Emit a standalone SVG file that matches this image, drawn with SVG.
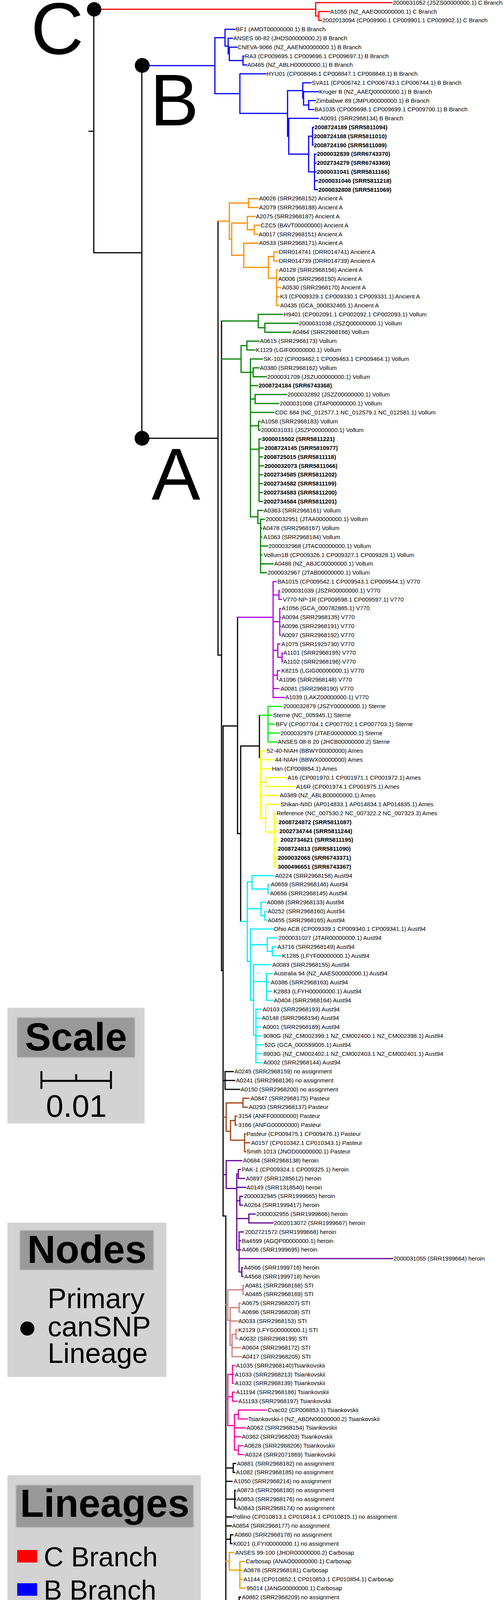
<svg xmlns="http://www.w3.org/2000/svg" width="1290" height="5964" viewBox="0 0 1290 5964">
<style>
.t{font-family:"Liberation Sans",Arial,Helvetica,sans-serif;font-size:15px;fill:#000}
.b{font-weight:bold}
.L{font-family:"Liberation Sans",Arial,Helvetica,sans-serif;fill:#000}
.e{fill:none;stroke-width:3;stroke-linecap:square}
.k{stroke:#000}.cC{stroke:#FF0000}.cB{stroke:#0000FF}.cAA{stroke:#FF8C00}.cVo{stroke:#008000}.cV7{stroke:#B400DC}.cSt{stroke:#00EE00}.cAm{stroke:#FFFF00}.cAu{stroke:#00EEFF}.cPa{stroke:#A0410D}.cHe{stroke:#640096}.cSTI{stroke:#CC7A7A}.cTs{stroke:#FF00A0}.cCa{stroke:#E6A000}.cW{stroke:#000080}
.box{fill:#D3D3D3}.tb{fill:#999999}
</style>
<defs><filter id="sh" x="-5%" y="-10%" width="110%" height="120%"><feGaussianBlur stdDeviation="1.8"/></filter></defs>

<g id="legend-scale">
<rect class="box" x="19" y="2580" width="351" height="296"/>
<rect class="tb" x="44" y="2605" width="301" height="102" filter="url(#sh)"/>
<text class="L b" x="194.5" y="2689" font-size="100" text-anchor="middle">Scale</text>
<path d="M106,2742V2788M284,2742V2788M106,2767H284M195,2750V2767" stroke="#000" stroke-width="5" fill="none"/>
<text class="L" x="195.5" y="2859" font-size="80" text-anchor="middle">0.01</text>
</g>
<g id="legend-nodes">
<rect class="box" x="19" y="3130" width="407" height="395"/>
<rect class="tb" x="51" y="3150" width="342" height="101" filter="url(#sh)"/>
<text class="L b" x="222.5" y="3233" font-size="100" text-anchor="middle">Nodes</text>
<circle cx="70" cy="3401" r="18" fill="#000"/>
<text class="L" x="122" y="3349" font-size="72">Primary</text>
<text class="L" x="122" y="3420.5" font-size="72">canSNP</text>
<text class="L" x="122" y="3489" font-size="72">Lineage</text>
</g>
<g id="legend-lineages">
<rect class="box" x="19" y="3776.5" width="495" height="1456"/>
<rect class="tb" x="41" y="3802" width="454" height="108" filter="url(#sh)"/>
<text class="L b" x="268" y="3883" font-size="100" text-anchor="middle">Lineages</text>
<rect x="44" y="3968" width="51" height="32" fill="#FF0000"/><text class="L" x="112" y="4009.6" font-size="70">C Branch</text>
<rect x="44" y="4053.1" width="51" height="32" fill="#0000FF"/><text class="L" x="112" y="4094.7" font-size="70">B Branch</text>
<rect x="44" y="4138.2" width="51" height="32" fill="#FF8C00"/><text class="L" x="112" y="4179.8" font-size="70">Ancient A</text>
<rect x="44" y="4223.3" width="51" height="32" fill="#008000"/><text class="L" x="112" y="4264.9" font-size="70">Vollum</text>
<rect x="44" y="4308.4" width="51" height="32" fill="#B400DC"/><text class="L" x="112" y="4350" font-size="70">V770</text>
<rect x="44" y="4393.5" width="51" height="32" fill="#00EE00"/><text class="L" x="112" y="4435.1" font-size="70">Sterne</text>
<rect x="44" y="4478.6" width="51" height="32" fill="#FFFF00"/><text class="L" x="112" y="4520.2" font-size="70">Ames</text>
<rect x="44" y="4563.7" width="51" height="32" fill="#00EEFF"/><text class="L" x="112" y="4605.3" font-size="70">Aust94</text>
<rect x="44" y="4648.8" width="51" height="32" fill="#000000"/><text class="L" x="112" y="4690.4" font-size="70">unassigned</text>
<rect x="44" y="4733.9" width="51" height="32" fill="#A0410D"/><text class="L" x="112" y="4775.5" font-size="70">Pasteur</text>
<rect x="44" y="4819" width="51" height="32" fill="#640096"/><text class="L" x="112" y="4860.6" font-size="70">heroin</text>
<rect x="44" y="4904.1" width="51" height="32" fill="#CC7A7A"/><text class="L" x="112" y="4945.7" font-size="70">STI</text>
<rect x="44" y="4989.2" width="51" height="32" fill="#FF00A0"/><text class="L" x="112" y="5030.8" font-size="70">Tsiankovskii</text>
<rect x="44" y="5074.3" width="51" height="32" fill="#E6A000"/><text class="L" x="112" y="5115.9" font-size="70">Carbosap</text>
<rect x="44" y="5159.4" width="51" height="32" fill="#000080"/><text class="L" x="112" y="5201" font-size="70">WNA</text>
</g>
<g id="legend-leafnames">
<rect class="box" x="19" y="5484" width="618" height="473"/>
<rect class="tb" x="35" y="5506" width="584" height="92" filter="url(#sh)"/>
<text class="L b" x="327" y="5588.7" font-size="101" text-anchor="middle">Leaf Names</text>
<rect class="tb" x="215" y="5644.5" width="223" height="59" filter="url(#sh)"/>
<text class="L b" x="326.5" y="5695.4" font-size="61" text-anchor="middle">Pattern</text>
<text class="L" x="333" y="5745" font-size="48" text-anchor="middle">strain (accession) lineage</text>
<rect class="tb" x="175" y="5787" width="303" height="67" filter="url(#sh)"/>
<text class="L b" x="325" y="5840" font-size="61" text-anchor="middle">Emphasis</text>
<text class="L" x="68" y="5895.7" font-size="48"><tspan font-weight="bold">bold</tspan>, this study</text>
<text class="L" x="68" y="5939" font-size="48">normal, previous studies</text>
</g>

<g id="connectors">
<path class="e k" d="M228,336H240M240,23.8V647M240,647H363M363,168V1122M363,1122H558M558,566V1677M558,1677H567M567,821.7V2484.5M567,2484.5H571M571,1858.6V3113M571,1858.6H608M608,1580.2V2134M608,2134H616M616,1909.8V2359M616,1909.8H664M664,1831V1939M571,3113H578M578,3113V4348M578,4348H587M587,4264.6V4485.4M571,2766H576M576,2743.2V2788.8M576,2743.2H597M576,2766H601M576,2788.8H614M578,3758H597M597,3746.6V3769.4M597,3746.6H603M597,3769.4H601M578,3792.2H594M578,3837.8H601M601,3815V3860.6M601,3815H603M601,3837.8H603M601,3860.6H605M578,3883.4H594M578,3906.2H592M578,3940.4H590M590,3929V3951.8M590,3929H596M590,3951.8H594M578,4100H612M612,4088.6V4111.4M612,4088.6H616M612,4111.4H614M578,4157H616M616,4134.2V4179.8M616,4134.2H622M616,4157H620M616,4179.8H620M578,4202.6H596M587,4264.6H659M659,4236.8V4305.3M659,4236.8H675M675,4225.4V4248.2M675,4225.4H684M675,4248.2H690M659,4305.3H678M678,4271V4339.5M678,4271H690M678,4293.9H690M678,4316.7H688M678,4339.5H690M587,4377.6H720M720,4362.3V4396.5M720,4362.3H849M720,4396.5H757M757,4385.1V4407.9M757,4385.1H919M757,4407.9H973"/>
<path class="e cC" d="M240,23.8H808M808,6.7V40.9M808,6.7H1003M808,40.9H816M816,29.5V52.3M816,29.5H843M816,52.3H823"/>
<path class="e cB" d="M364,168H550M550,96.5V239.7M550,96.5H576M576,75.1V117.9M576,75.1H602M576,117.9H584M584,97.9V137.8M584,97.9H595M584,137.8H587M587,120.7V154.9M587,120.7H606M587,154.9H622M622,143.5V166.3M622,143.5H625M622,166.3H631M550,239.7H614M614,189.1V290.3M614,189.1H680M614,290.3H736M736,231.9V348.8M736,231.9H775M775,211.9V251.8M775,211.9H796M775,251.8H777M777,234.7V268.9M777,234.7H815M777,268.9H790M790,257.5V280.3M790,257.5H807M790,280.3H803M736,348.8H739M739,303.1V394.4M739,303.1H815M739,394.4H790M790,348.8V440M790,348.8H800M800,326V371.6M800,326H803M800,371.6H801M790,440H805M805,394.4V485.6M805,394.4H809M805,417.2H809M805,440H809M805,462.8H813M805,485.6H813"/>
<path class="e cAA" d="M558,566H587M587,519.8V612.3M587,519.8H636M636,508.4V531.2M636,508.4H661M636,531.2H661M587,612.3H593M593,571.1V653.4M593,571.1H633M633,554V588.2M633,554H653M633,588.2H651M651,576.8V599.6M651,576.8H665M651,599.6H660M593,653.4H624M624,622.4V684.5M624,622.4H661M624,684.5H687M687,656.6V712.3M687,656.6H701M701,645.2V668M701,645.2H712M701,668H712M687,712.3H708M708,690.8V782M708,690.8H711M708,736.4H719M708,759.2H714M708,782H714"/>
<path class="e cVo" d="M567,821.7H661M661,804.8V839M661,804.8H723M661,839H678M678,827.6V850.4M678,827.6H763M678,850.4H744M567,919H617M617,884.7V953.3M617,884.7H632M632,873.3V896.1M632,873.3H663M632,896.1H653M617,953.3H641M641,918.9V1323M641,918.9H672M641,953.1H648M648,941.7V964.5M648,941.7H663M648,964.5H682M641,987.3H660M641,1021.5H653M653,1010.1V1032.9M653,1010.1H734M653,1032.9H713M641,1055.7H701M641,1089.9H662M662,1078.5V1101.3M662,1078.5H666M662,1101.3H666M641,1150H663M663,1124.1V1283.7M663,1124.1H668M663,1146.9H674M663,1169.7H672M663,1192.5H674M663,1215.3H672M663,1238.1H672M663,1260.9H672M663,1283.7H672M641,1323H660M660,1306.5V1340M660,1306.5H673M660,1340H667M667,1329.3V1466.2M667,1329.3H677M667,1352.1H670M667,1374.9H670M667,1397.7H685M667,1420.5H670M667,1443.4H699M667,1466.2H682"/>
<path class="e cV7" d="M608,1580.2H699M699,1489V1785.4M699,1489H707M699,1523.2H714M714,1511.8V1534.6M714,1511.8H716M714,1534.6H720M699,1591.6H716M716,1557.4V1625.8M716,1557.4H718M716,1580.2H718M716,1603H718M716,1625.8H718M699,1665H711M711,1648.6V1682.8M711,1648.6H716M711,1682.8H722M722,1671.4V1694.2M722,1671.4H723M722,1694.2H723M699,1728.4H710M710,1717V1739.8M710,1717H716M710,1739.8H711M699,1762.6H714M699,1785.4H728"/>
<path class="e cSt" d="M664,1831H686M686,1808.2V1899.4M686,1808.2H721M686,1831H696M686,1853.8H703M686,1876.6H715M686,1899.4H709"/>
<path class="e cAm" d="M664,2008H667M667,1922.2V2094.6M667,1922.2H680M667,1945H701M667,1967.8H693M667,2002H680M680,1990.6V2013.5M680,1990.6H734M680,2013.5H754M667,2036.3H713M667,2094.6H680M680,2059.1V2130M680,2059.1H715M680,2130H702M702,2081.9V2218.7M702,2081.9H706M702,2104.7H709M702,2127.5H709M702,2150.3H709M702,2173.1H709M702,2195.9H709M702,2218.7H709"/>
<path class="e cAu" d="M616,2359H633M633,2257.4V2461.5M633,2257.4H645M645,2241.5V2275.7M645,2241.5H700M645,2275.7H686M686,2264.3V2287.1M686,2264.3H690M686,2287.1H688M633,2326.6H668M668,2309.9V2344.1M668,2309.9H680M668,2344.1H678M678,2332.7V2355.5M678,2332.7H682M678,2355.5H682M633,2461.5H641M641,2378.3V2560.5M641,2378.3H699M641,2418.5H684M684,2401.1V2435.3M684,2401.1H709M684,2435.3H697M697,2423.9V2446.7M697,2423.9H707M697,2446.7H718M641,2560.5H649M649,2469.5V2650M649,2469.5H693M649,2512.8H682M682,2492.3V2560.7M682,2492.3H697M682,2515.1H688M682,2537.9H695M682,2560.7H699M649,2650H655M655,2583.6V2720.4M655,2583.6H668M655,2606.4H666M655,2629.2H668M655,2652H668M655,2674.8H674M655,2697.6H670M655,2720.4H670"/>
<path class="e cPa" d="M571,2860H579M579,2823.5V2896M579,2823.5H622M622,2811.6V2834.4M622,2811.6H637M622,2834.4H633M579,2896H590M590,2868.6V2919M590,2868.6H602M602,2857.2V2880M602,2857.2H606M602,2880H606M590,2919H626M626,2902.8V2948.4M626,2902.8H629M626,2925.6H639M626,2948.4H629"/>
<path class="e cHe" d="M571,3007H579M579,2971.2V3042.6M579,2971.2H619M579,3042.6H606M606,3005.4V3200M606,3005.4H610M610,2994V3016.8M610,2994H615M610,3016.8H626M606,3039.6H629M606,3073.8H614M614,3062.4V3085.2M614,3062.4H621M614,3085.2H621M606,3119.4H637M637,3108V3130.8M637,3108H653M637,3130.8H699M606,3200H612M612,3153.7V3256.3M612,3153.7H623M612,3176.5H616M612,3199.3H616M612,3222.1H1005M612,3256.3H619M619,3244.9V3267.7M619,3244.9H621M619,3267.7H622"/>
<path class="e cSTI" d="M578,3341H583M583,3301.9V3380M583,3301.9H622M622,3290.5V3313.3M622,3290.5H624M622,3313.3H624M583,3380H589M589,3347.5V3444M589,3347.5H612M612,3336.1V3358.9M612,3336.1H615M612,3358.9H615M589,3381.7H608M589,3444H594M594,3415.9V3472.9M594,3415.9H604M604,3404.5V3427.3M604,3404.5H607M604,3427.3H609M594,3450.1H616M594,3472.9H618"/>
<path class="e cTs" d="M578,3581H583M583,3518.5V3649.4M583,3518.5H595M595,3495.7V3541.3M595,3495.7H601M595,3518.5H598M595,3541.3H598M583,3575.5H595M595,3564.1V3586.9M595,3564.1H601M595,3586.9H607M583,3649.4H600M600,3621.1V3712.3M600,3621.1H610M610,3609.7V3632.5M610,3609.7H682M610,3632.5H633M600,3655.3H629M600,3678.1H616M600,3712.3H610M610,3700.9V3723.8M610,3700.9H622M610,3723.8H624"/>
<path class="e cCa" d="M578,3997H587M587,3974.6V4019.6M587,3974.6H599M587,4019.6H614M614,3997.4V4065.8M614,3997.4H626M614,4020.2H620M614,4043H620M614,4065.8H628"/>
<path class="e cW" d="M587,4485.4H627M627,4430.7V4540M627,4430.7H629M627,4540H637M637,4453.5V4757M637,4453.5H682M637,4510.5H644M644,4476.3V4544.7M644,4476.3H646M644,4499.1H646M644,4521.9H646M644,4544.7H646M637,4757H641M641,4567.5V4941M641,4567.5H658M641,4607H649M649,4590.3V4624.5M649,4590.3H662M649,4624.5H662M662,4613.1V4635.9M662,4613.1H709M662,4635.9H668M641,4658.7H678M641,4681.5H655M641,4704.3H677M641,4727.1H655M641,4795.5H653M653,4749.9V4841.1M653,4749.9H655M653,4772.7H655M653,4818.3H655M653,4841.1H655M641,4898H659M659,4864V4932.4M659,4864H662M659,4886.8H662M659,4909.6H662M659,4932.4H660M641,4941H651M651,4941V5633M651,4972.8H682M682,4955.2V5023.6M682,4955.2H685M682,4978H686M682,5000.8H685M682,5023.6H686M651,5046.4H659M651,5092H667M667,5069.2V5114.8M667,5069.2H668M667,5114.8H668M651,5137.6H658M651,5182H668M668,5160.4V5206M668,5160.4H693M668,5206H680M680,5183.2V5240M680,5183.2H707M680,5240H685M685,5206V5274.4M685,5206H688M685,5228.8H688M685,5251.6H688M685,5274.4H688M651,5354H660M660,5297.2V5456.9M660,5297.2H663M660,5320H663M660,5342.8H663M660,5365.6H663M660,5388.4H664M660,5411.2H664M660,5434H664M660,5456.9H664M651,5502.5H662M662,5479.7V5525.3M662,5479.7H664M662,5502.5H664M662,5525.3H664M651,5548.1H665M651,5582.3H670M670,5570.9V5593.7M670,5570.9H673M670,5593.7H673M651,5633H662M662,5633V5800M662,5650.7H674M674,5616.5V5684.9M674,5616.5H676M674,5639.3H676M674,5662.1H678M674,5684.9H683M662,5753.3H678M678,5707.7V5798.9M678,5707.7H680M678,5730.5H680M678,5776.1H681M678,5798.9H681M662,5800H670M670,5800V5912.9M670,5833.1H674M674,5821.7V5844.5M674,5821.7H677M674,5844.5H683M670,5912.9H674M674,5867.3V5958.5M674,5867.3H675M674,5890.1H675M674,5935.7H675M674,5958.5H675"/>
</g>

<g id="node-C"><circle cx="241" cy="24" r="18.5" fill="#000"/><text class="L" x="79" y="138" font-size="187">C</text></g>
<g id="node-B"><circle cx="364" cy="167.5" r="19" fill="#000"/><text class="L" x="384" y="321" font-size="187">B</text></g>
<g id="node-A"><circle cx="363.5" cy="1122" r="19" fill="#000"/><text class="L" x="388" y="1279" font-size="187">A</text></g>

<g id="leaves">
<text id="leaf0" class="t" x="1006" y="11.7">2000031052 (JSZS00000000.1) C Branch</text>
<text id="leaf1" class="t" x="845" y="34.5">A1055 (NZ_AAEO00000000.1) C Branch</text>
<text id="leaf2" class="t" x="825" y="57.3">2002013094 (CP009900.1 CP009901.1 CP009902.1) C Branch</text>
<text id="leaf3" class="t" x="604" y="80.1">BF1 (AMDT00000000.1) B Branch</text>
<text id="leaf4" class="t" x="597" y="102.9">ANSES 00-82 (JHDS00000000.2) B Branch</text>
<text id="leaf5" class="t" x="608" y="125.7">CNEVA-9066 (NZ_AAEN00000000.1) B Branch</text>
<text id="leaf6" class="t" x="627" y="148.5">RA3 (CP009695.1 CP009696.1 CP009697.1) B Branch</text>
<text id="leaf7" class="t" x="633" y="171.3">A0465 (NZ_ABLH00000000.1) B Branch</text>
<text id="leaf8" class="t" x="682" y="194.1">HYU01 (CP008846.1 CP008847.1 CP008848.1) B Branch</text>
<text id="leaf9" class="t" x="798" y="216.9">SVA11 (CP006742.1 CP006743.1 CP006744.1) B Branch</text>
<text id="leaf10" class="t" x="817" y="239.7">Kruger B (NZ_AAEQ00000000.1) B Branch</text>
<text id="leaf11" class="t" x="809" y="262.5">Zimbabwe 89 (JMPU00000000.1) B Branch</text>
<text id="leaf12" class="t" x="805" y="285.3">BA1035 (CP009698.1 CP009699.1 CP009700.1) B Branch</text>
<text id="leaf13" class="t" x="819" y="308.1">A0091 (SRR2968134) B Branch</text>
<text id="leaf14" class="t b" x="805" y="331">2008724189 (SRR5811094)</text>
<text id="leaf15" class="t b" x="803" y="353.8">2008724188 (SRR5811010)</text>
<text id="leaf16" class="t b" x="803" y="376.6">2008724190 (SRR5811089)</text>
<text id="leaf17" class="t b" x="811" y="399.4">2000032839 (SRR6743370)</text>
<text id="leaf18" class="t b" x="811" y="422.2">2002734279 (SRR6743369)</text>
<text id="leaf19" class="t b" x="811" y="445">2000031041 (SRR5811166)</text>
<text id="leaf20" class="t b" x="815" y="467.8">2000031046 (SRR5811218)</text>
<text id="leaf21" class="t b" x="815" y="490.6">2000032808 (SRR5811069)</text>
<text id="leaf22" class="t" x="663" y="513.4">A0026 (SRR2968152) Ancient A</text>
<text id="leaf23" class="t" x="663" y="536.2">A2079 (SRR2968188) Ancient A</text>
<text id="leaf24" class="t" x="655" y="559">A2075 (SRR2968187) Ancient A</text>
<text id="leaf25" class="t" x="667" y="581.8">CZC5 (BAVT00000000) Ancient A</text>
<text id="leaf26" class="t" x="662" y="604.6">A0017 (SRR2968151) Ancient A</text>
<text id="leaf27" class="t" x="663" y="627.4">A0533 (SRR2968171) Ancient A</text>
<text id="leaf28" class="t" x="714" y="650.2">DRR014741 (DRR014741) Ancient A</text>
<text id="leaf29" class="t" x="714" y="673">DRR014739 (DRR014739) Ancient A</text>
<text id="leaf30" class="t" x="714" y="695.8">A0128 (SRR2968156) Ancient A</text>
<text id="leaf31" class="t" x="712" y="718.6">A0006 (SRR2968150) Ancient A</text>
<text id="leaf32" class="t" x="722" y="741.4">A0530 (SRR2968170) Ancient A</text>
<text id="leaf33" class="t" x="717" y="764.2">K3 (CP009329.1 CP009330.1 CP009331.1) Ancient A</text>
<text id="leaf34" class="t" x="717" y="787">A0435 (GCA_000832465.1) Ancient A</text>
<text id="leaf35" class="t" x="726" y="809.8">H9401 (CP002091.1 CP002092.1 CP002093.1) Vollum</text>
<text id="leaf36" class="t" x="765" y="832.6">2000031038 (JSZQ00000000.1) Vollum</text>
<text id="leaf37" class="t" x="748" y="855.4">A0464 (SRR2968166) Vollum</text>
<text id="leaf38" class="t" x="665" y="878.3">A0615 (SRR2968173) Vollum</text>
<text id="leaf39" class="t" x="655" y="901.1">K1129 (LGIF00000000.1) Vollum</text>
<text id="leaf40" class="t" x="675" y="923.9">SK-102 (CP009462.1 CP009463.1 CP009464.1) Vollum</text>
<text id="leaf41" class="t" x="665" y="946.7">A0380 (SRR2968162) Vollum</text>
<text id="leaf42" class="t" x="684" y="969.5">2000031709 (JSZU00000000.1) Vollum</text>
<text id="leaf43" class="t b" x="662" y="992.3">2008724184 (SRR6743368)</text>
<text id="leaf44" class="t" x="736" y="1015.1">2000032892 (JSZZ00000000.1) Vollum</text>
<text id="leaf45" class="t" x="716" y="1037.9">2000031008 (JTAP00000000.1) Vollum</text>
<text id="leaf46" class="t" x="704" y="1060.7">CDC 684 (NC_012577.1 NC_012579.1 NC_012581.1) Vollum</text>
<text id="leaf47" class="t" x="668" y="1083.5">A1058 (SRR2968183) Vollum</text>
<text id="leaf48" class="t" x="668" y="1106.3">2000031031 (JSZP00000000.1) Vollum</text>
<text id="leaf49" class="t b" x="670" y="1129.1">3000015502 (SRR5811221)</text>
<text id="leaf50" class="t b" x="677" y="1151.9">2008724145 (SRR5810977)</text>
<text id="leaf51" class="t b" x="675" y="1174.7">2008725015 (SRR5811118)</text>
<text id="leaf52" class="t b" x="677" y="1197.5">2000032073 (SRR5811066)</text>
<text id="leaf53" class="t b" x="675" y="1220.3">2002734585 (SRR5811202)</text>
<text id="leaf54" class="t b" x="675" y="1243.1">2002734582 (SRR5811199)</text>
<text id="leaf55" class="t b" x="675" y="1265.9">2002734583 (SRR5811200)</text>
<text id="leaf56" class="t b" x="675" y="1288.7">2002734584 (SRR5811201)</text>
<text id="leaf57" class="t" x="675" y="1311.5">A0363 (SRR2968161) Vollum</text>
<text id="leaf58" class="t" x="680" y="1334.3">2000032951 (JTAA00000000.1) Vollum</text>
<text id="leaf59" class="t" x="672" y="1357.1">A0478 (SRR2968167) Vollum</text>
<text id="leaf60" class="t" x="674" y="1379.9">A1063 (SRR2968184) Vollum</text>
<text id="leaf61" class="t" x="687" y="1402.7">2000032968 (JTAC00000000.1) Vollum</text>
<text id="leaf62" class="t" x="675" y="1425.5">Vollum1B (CP009326.1 CP009327.1 CP009328.1) Vollum</text>
<text id="leaf63" class="t" x="702" y="1448.4">A0488 (NZ_ABJC00000000.1) Vollum</text>
<text id="leaf64" class="t" x="685" y="1471.2">2000032967 (JTAB00000000.1) Vollum</text>
<text id="leaf65" class="t" x="710" y="1494">BA1015 (CP009542.1 CP009543.1 CP009544.1) V770</text>
<text id="leaf66" class="t" x="720" y="1516.8">2000031039 (JSZR00000000.1) V770</text>
<text id="leaf67" class="t" x="724" y="1539.6">V770-NP-1R (CP009598.1 CP009597.1) V770</text>
<text id="leaf68" class="t" x="721" y="1562.4">A1056 (GCA_000782885.1) V770</text>
<text id="leaf69" class="t" x="721" y="1585.2">A0094 (SRR2968135) V770</text>
<text id="leaf70" class="t" x="720" y="1608">A0096 (SRR2968191) V770</text>
<text id="leaf71" class="t" x="720" y="1630.8">A0097 (SRR2968192) V770</text>
<text id="leaf72" class="t" x="720" y="1653.6">A1075 (SRR1925730) V770</text>
<text id="leaf73" class="t" x="725" y="1676.4">A1101 (SRR2968195) V770</text>
<text id="leaf74" class="t" x="725" y="1699.2">A1102 (SRR2968196) V770</text>
<text id="leaf75" class="t" x="720" y="1722">K8215 (LGIG00000000.1) V770</text>
<text id="leaf76" class="t" x="714" y="1744.8">A1096 (SRR2968148) V770</text>
<text id="leaf77" class="t" x="718" y="1767.6">A0081 (SRR2968190) V770</text>
<text id="leaf78" class="t" x="730" y="1790.4">A1039 (LAKZ00000000.1) V770</text>
<text id="leaf79" class="t" x="725" y="1813.2">2000032879 (JSZY00000000.1) Sterne</text>
<text id="leaf80" class="t" x="699" y="1836">Sterne (NC_005945.1) Sterne</text>
<text id="leaf81" class="t" x="706" y="1858.8">BFV (CP007704.1 CP007702.1 CP007703.1) Sterne</text>
<text id="leaf82" class="t" x="718" y="1881.6">2000032979 (JTAE00000000.1) Sterne</text>
<text id="leaf83" class="t" x="711" y="1904.4">ANSES 08-8 20 (JHCB00000000.2) Sterne</text>
<text id="leaf84" class="t" x="683" y="1927.2">52-40-NIAH (BBWY00000000) Ames</text>
<text id="leaf85" class="t" x="704" y="1950">44-NIAH (BBWX00000000) Ames</text>
<text id="leaf86" class="t" x="696" y="1972.8">Han (CP008854.1) Ames</text>
<text id="leaf87" class="t" x="736" y="1995.6">A16 (CP001970.1 CP001971.1 CP001972.1) Ames</text>
<text id="leaf88" class="t" x="758" y="2018.5">A16R (CP001974.1 CP001975.1) Ames</text>
<text id="leaf89" class="t" x="716" y="2041.3">A0389 (NZ_ABLB00000000.1) Ames</text>
<text id="leaf90" class="t" x="718" y="2064.1">Shikan-NIID (AP014833.1 AP014834.1 AP014835.1) Ames</text>
<text id="leaf91" class="t" x="708" y="2086.9">Reference (NC_007530.2 NC_007322.2 NC_007323.3) Ames</text>
<text id="leaf92" class="t b" x="713" y="2109.7">2008724872 (SRR5811087)</text>
<text id="leaf93" class="t b" x="715" y="2132.5">2002734744 (SRR5811244)</text>
<text id="leaf94" class="t b" x="718" y="2155.3">2002734621 (SRR5811195)</text>
<text id="leaf95" class="t b" x="711" y="2178.1">2008724813 (SRR5811090)</text>
<text id="leaf96" class="t b" x="711" y="2200.9">2000032065 (SRR6743371)</text>
<text id="leaf97" class="t b" x="711" y="2223.7">3000496651 (SRR6743367)</text>
<text id="leaf98" class="t" x="704" y="2246.5">A0224 (SRR2968158) Aust94</text>
<text id="leaf99" class="t" x="693" y="2269.3">A0659 (SRR2968146) Aust94</text>
<text id="leaf100" class="t" x="691" y="2292.1">A0656 (SRR2968145) Aust94</text>
<text id="leaf101" class="t" x="683" y="2314.9">A0088 (SRR2968133) Aust94</text>
<text id="leaf102" class="t" x="685" y="2337.7">A0252 (SRR2968160) Aust94</text>
<text id="leaf103" class="t" x="685" y="2360.5">A0455 (SRR2968165) Aust94</text>
<text id="leaf104" class="t" x="701" y="2383.3">Ohio ACB (CP009339.1 CP009340.1 CP009341.1) Aust94</text>
<text id="leaf105" class="t" x="713" y="2406.1">2000031027 (JTAR00000000.1) Aust94</text>
<text id="leaf106" class="t" x="710" y="2428.9">A3716 (SRR2968149) Aust94</text>
<text id="leaf107" class="t" x="722" y="2451.7">K1285 (LFYF00000000.1) Aust94</text>
<text id="leaf108" class="t" x="697" y="2474.5">A0083 (SRR2968155) Aust94</text>
<text id="leaf109" class="t" x="701" y="2497.3">Australia 94 (NZ_AAES00000000.1) Aust94</text>
<text id="leaf110" class="t" x="693" y="2520.1">A0386 (SRR2968163) Aust94</text>
<text id="leaf111" class="t" x="700" y="2542.9">K2883 (LFYH00000000.1) Aust94</text>
<text id="leaf112" class="t" x="701" y="2565.7">A0404 (SRR2968164) Aust94</text>
<text id="leaf113" class="t" x="672" y="2588.6">A0103 (SRR2968193) Aust94</text>
<text id="leaf114" class="t" x="670" y="2611.4">A0148 (SRR2968194) Aust94</text>
<text id="leaf115" class="t" x="672" y="2634.2">A0001 (SRR2968189) Aust94</text>
<text id="leaf116" class="t" x="674" y="2657">9080G (NZ_CM002399.1 NZ_CM002400.1 NZ_CM002398.1) Aust94</text>
<text id="leaf117" class="t" x="677" y="2679.8">52G (GCA_000559005.1) Aust94</text>
<text id="leaf118" class="t" x="674" y="2702.6">8903G (NZ_CM002402.1 NZ_CM002403.1 NZ_CM002401.1) Aust94</text>
<text id="leaf119" class="t" x="674" y="2725.4">A0002 (SRR2968144) Aust94</text>
<text id="leaf120" class="t" x="600" y="2748.2">A0245 (SRR2968159) no assignment</text>
<text id="leaf121" class="t" x="604" y="2771">A0241 (SRR2968136) no assignment</text>
<text id="leaf122" class="t" x="616" y="2793.8">A0150 (SRR2968200) no assignment</text>
<text id="leaf123" class="t" x="641" y="2816.6">A0847 (SRR2968175) Pasteur</text>
<text id="leaf124" class="t" x="637" y="2839.4">A0293 (SRR2968137) Pasteur</text>
<text id="leaf125" class="t" x="610" y="2862.2">3154 (ANFF00000000) Pasteur</text>
<text id="leaf126" class="t" x="610" y="2885">3166 (ANFG00000000) Pasteur</text>
<text id="leaf127" class="t" x="631" y="2907.8">Pasteur (CP009475.1 CP009476.1) Pasteur</text>
<text id="leaf128" class="t" x="643" y="2930.6">A0157 (CP010342.1 CP010343.1) Pasteur</text>
<text id="leaf129" class="t" x="631" y="2953.4">Smith 1013 (JNOD00000000.1) Pasteur</text>
<text id="leaf130" class="t" x="622" y="2976.2">A0684 (SRR2968138) heroin</text>
<text id="leaf131" class="t" x="619" y="2999">PAK-1 (CP009324.1 CP009325.1) heroin</text>
<text id="leaf132" class="t" x="629" y="3021.8">A0897 (SRR1285612) heroin</text>
<text id="leaf133" class="t" x="631" y="3044.6">A0149 (SRR1318540) heroin</text>
<text id="leaf134" class="t" x="624" y="3067.4">2000032945 (SRR1999665) heroin</text>
<text id="leaf135" class="t" x="624" y="3090.2">A0264 (SRR1999417) heroin</text>
<text id="leaf136" class="t" x="656" y="3113">2000032955 (SRR1999666) heroin</text>
<text id="leaf137" class="t" x="701" y="3135.8">2002013072 (SRR1999667) heroin</text>
<text id="leaf138" class="t" x="627" y="3158.7">2002721572 (SRR1999668) heroin</text>
<text id="leaf139" class="t" x="619" y="3181.5">Ba4599 (AGQP00000000.1) heroin</text>
<text id="leaf140" class="t" x="619" y="3204.3">A4606 (SRR1999695) heroin</text>
<text id="leaf141" class="t" x="1007" y="3227.1">2000031055 (SRR1999664) heroin</text>
<text id="leaf142" class="t" x="624" y="3249.9">A4566 (SRR1999716) heroin</text>
<text id="leaf143" class="t" x="625" y="3272.7">A4568 (SRR1999718) heroin</text>
<text id="leaf144" class="t" x="627" y="3295.5">A0481 (SRR2968168) STI</text>
<text id="leaf145" class="t" x="627" y="3318.3">A0485 (SRR2968169) STI</text>
<text id="leaf146" class="t" x="619" y="3341.1">A0675 (SRR2968207) STI</text>
<text id="leaf147" class="t" x="619" y="3363.9">A0696 (SRR2968208) STI</text>
<text id="leaf148" class="t" x="610" y="3386.7">A0033 (SRR2968153) STI</text>
<text id="leaf149" class="t" x="610" y="3409.5">K2129 (LFYG00000000.1) STI</text>
<text id="leaf150" class="t" x="612" y="3432.3">A0032 (SRR2968199) STI</text>
<text id="leaf151" class="t" x="619" y="3455.1">A0604 (SRR2968172) STI</text>
<text id="leaf152" class="t" x="620" y="3477.9">A0417 (SRR2968205) STI</text>
<text id="leaf153" class="t" x="604" y="3500.7">A1035 (SRR2968140)Tsiankovskii</text>
<text id="leaf154" class="t" x="601" y="3523.5">A1033 (SRR2968213) Tsiankovskii</text>
<text id="leaf155" class="t" x="601" y="3546.3">A1032 (SRR2968139) Tsiankovskii</text>
<text id="leaf156" class="t" x="604" y="3569.1">A11194 (SRR2968186) Tsiankovskii</text>
<text id="leaf157" class="t" x="610" y="3591.9">A11193 (SRR2968197) Tsiankovskii</text>
<text id="leaf158" class="t" x="685" y="3614.7">Cvac02 (CP008853.1) Tsiankovskii</text>
<text id="leaf159" class="t" x="635" y="3637.5">Tsiankovskii-I (NZ_ABDN00000000.2) Tsiankovskii</text>
<text id="leaf160" class="t" x="631" y="3660.3">A0062 (SRR2968154) Tsiankovskii</text>
<text id="leaf161" class="t" x="619" y="3683.1">A0362 (SRR2968203) Tsiankovskii</text>
<text id="leaf162" class="t" x="625" y="3705.9">A0628 (SRR2968206) Tsiankovskii</text>
<text id="leaf163" class="t" x="627" y="3728.8">A0324 (SRR2071869) Tsiankovskii</text>
<text id="leaf164" class="t" x="606" y="3751.6">A0881 (SRR2968182) no assignment</text>
<text id="leaf165" class="t" x="604" y="3774.4">A1082 (SRR2968185) no assignment</text>
<text id="leaf166" class="t" x="598" y="3797.2">A1050 (SRR2968214) no assignment</text>
<text id="leaf167" class="t" x="606" y="3820">A0873 (SRR2968180) no assignment</text>
<text id="leaf168" class="t" x="606" y="3842.8">A0853 (SRR2968176) no assignment</text>
<text id="leaf169" class="t" x="607" y="3865.6">A0843 (SRR2968174) no assignment</text>
<text id="leaf170" class="t" x="596" y="3888.4">Pollino (CP010813.1 CP010814.1 CP010815.1) no assignment</text>
<text id="leaf171" class="t" x="594" y="3911.2">A0854 (SRR2968177) no assignment</text>
<text id="leaf172" class="t" x="600" y="3934">A0860 (SRR2968178) no assignment</text>
<text id="leaf173" class="t" x="597" y="3956.8">K0021 (LFYI00000000.1) no assignment</text>
<text id="leaf174" class="t" x="602" y="3979.6">ANSES 99-100 (JHDR00000000.2) Carbosap</text>
<text id="leaf175" class="t" x="629" y="4002.4">Carbosap (ANAO00000000.1) Carbosap</text>
<text id="leaf176" class="t" x="623" y="4025.2">A0878 (SRR2968181) Carbosap</text>
<text id="leaf177" class="t" x="623" y="4048">A1144 (CP010852.1 CP010853.1 CP010854.1) Carbosap</text>
<text id="leaf178" class="t" x="631" y="4070.8">95014 (JANG00000000.1) Carbosap</text>
<text id="leaf179" class="t" x="619" y="4093.6">A0862 (SRR2968209) no assignment</text>
<text id="leaf180" class="t" x="617" y="4116.4">A0862 (SRR2968179) no assignment</text>
<text id="leaf181" class="t" x="626" y="4139.2">A0891 (SRR2968210) no assignment</text>
<text id="leaf182" class="t" x="623" y="4162">A0894 (SRR2968212) no assignment</text>
<text id="leaf183" class="t" x="623" y="4184.8">A0893 (SRR2968211) no assignment</text>
<text id="leaf184" class="t" x="599" y="4207.6">A0401 (SRR2968204) no assignment</text>
<text id="leaf185" class="t" x="686" y="4230.4">Scotland 483 (SRR2094263) no assignment</text>
<text id="leaf186" class="t" x="692" y="4253.2">A3802 (SRR2968215) no assignment</text>
<text id="leaf187" class="t" x="694" y="4276">London 496 (SRR2094267) no assignment</text>
<text id="leaf188" class="t" x="694" y="4298.9">London 491 (SRR2094266) no assignment</text>
<text id="leaf189" class="t" x="691" y="4321.7">London 497 (SRR2094269) no assignment</text>
<text id="leaf190" class="t" x="694" y="4344.5">London 493 (SRR2094265) no assignment</text>
<text id="leaf191" class="t" x="852" y="4367.3">Sen2Col2 (GCF_000359425.1) no assignment</text>
<text id="leaf192" class="t" x="922" y="4390.1">Gmb1 (GCF_000359465.1) no assignment</text>
<text id="leaf193" class="t" x="976" y="4412.9">Sen3 (GCF_000359445.1) no assignment</text>
<text id="leaf194" class="t" x="631" y="4435.7">A0303 (SRR2968201) WNA</text>
<text id="leaf195" class="t" x="685" y="4458.5">Canadian bison (CP010320.1 CP010321.1 CP010322.1) WNA</text>
<text id="leaf196" class="t b" x="648" y="4481.3">2008724154 (SRR5810974)</text>
<text id="leaf197" class="t b" x="647" y="4504.1">2008724811 (SRR5811092)</text>
<text id="leaf198" class="t b" x="647" y="4526.9">2008724155 (SRR5810975)</text>
<text id="leaf199" class="t b" x="647" y="4549.7">3000496652 (SRR6743366)</text>
<text id="leaf200" class="t" x="662" y="4572.5">A0174 (NZ_ABLT00000000.1) WNA</text>
<text id="leaf201" class="t b" x="666" y="4595.3">2008725020 (SRR5811117)</text>
<text id="leaf202" class="t" x="711" y="4618.1">2000031006 (JTAS00000000.1) WNA</text>
<text id="leaf203" class="t b" x="672" y="4640.9">2008724187 (SRR5811011)</text>
<text id="leaf204" class="t" x="680" y="4663.7">A0193 (NZ_ABKF00000000.1) WNA</text>
<text id="leaf205" class="t b" x="659" y="4686.5">2008724920 (SRR5811107)</text>
<text id="leaf206" class="t b" x="680" y="4709.3">3000015505 (SRR5811226)</text>
<text id="leaf207" class="t b" x="658" y="4732.1">3000015504 (SRR5811227)</text>
<text id="leaf208" class="t b" x="659" y="4754.9">2008724220 (SRR5811056)</text>
<text id="leaf209" class="t b" x="659" y="4777.7">2008724217 (SRR5811053)</text>
<text id="leaf210" class="t b" x="658" y="4800.5">2008724219 (SRR5811055)</text>
<text id="leaf211" class="t b" x="658" y="4823.3">2008724218 (SRR5811054)</text>
<text id="leaf212" class="t b" x="658" y="4846.1">2008724221 (SRR5811057)</text>
<text id="leaf213" class="t b" x="666" y="4869">3000015497 (SRR5811174)</text>
<text id="leaf214" class="t b" x="666" y="4891.8">3000015496 (SRR5811173)</text>
<text id="leaf215" class="t b" x="667" y="4914.6">3000015506 (SRR5811134)</text>
<text id="leaf216" class="t b" x="663" y="4937.4">2002734752 (SRR5811243)</text>
<text id="leaf217" class="t" x="688" y="4960.2">2000032819 (JSZW00000000.1) WNA</text>
<text id="leaf218" class="t" x="691" y="4983">2000032832 (JSZX00000000.1) WNA</text>
<text id="leaf219" class="t" x="688" y="5005.8">2000032989 (JTAF00000000.1) WNA</text>
<text id="leaf220" class="t" x="690" y="5028.6">2000031765 (JSZV00000000.1) WNA</text>
<text id="leaf221" class="t b" x="663" y="5051.4">3000015503 (SRR5811220)</text>
<text id="leaf222" class="t b" x="670" y="5074.2">2008725014 (SRR5811113)</text>
<text id="leaf223" class="t b" x="670" y="5097">2008725012 (SRR5811115)</text>
<text id="leaf224" class="t b" x="670" y="5119.8">2008725013 (SRR5811112)</text>
<text id="leaf225" class="t" x="663" y="5142.6">USA6153 (NZ_AAER00000000.1) WNA</text>
<text id="leaf226" class="t b" x="697" y="5165.4">2000032067 (SRR5811067)</text>
<text id="leaf227" class="t b" x="710" y="5188.2">2008724812 (SRR5811091)</text>
<text id="leaf228" class="t b" x="691" y="5211">2002734737 (SRR5811246)</text>
<text id="leaf229" class="t b" x="691" y="5233.8">2002734743 (SRR5811245)</text>
<text id="leaf230" class="t b" x="692" y="5256.6">2008724737 (SRR5811060)</text>
<text id="leaf231" class="t b" x="692" y="5279.4">2008725011 (SRR5811114)</text>
<text id="leaf232" class="t b" x="666" y="5302.2">2002734633 (SRR5811242)</text>
<text id="leaf233" class="t b" x="666" y="5325">2002734635 (SRR5811240)</text>
<text id="leaf234" class="t b" x="666" y="5347.8">2002734630 (SRR5811198)</text>
<text id="leaf235" class="t b" x="666" y="5370.6">2002734634 (SRR5811241)</text>
<text id="leaf236" class="t b" x="668" y="5393.4">2002734632 (SRR5810986)</text>
<text id="leaf237" class="t b" x="667" y="5416.2">2002734629 (SRR5811197)</text>
<text id="leaf238" class="t b" x="667" y="5439">2002734631 (SRR5810982)</text>
<text id="leaf239" class="t b" x="667" y="5461.9">2002734628 (SRR5811196)</text>
<text id="leaf240" class="t b" x="667" y="5484.7">3000015495 (SRR5811172)</text>
<text id="leaf241" class="t b" x="667" y="5507.5">3000015498 (SRR5810955)</text>
<text id="leaf242" class="t b" x="667" y="5530.3">3000015499 (SRR5810960)</text>
<text id="leaf243" class="t b" x="668" y="5553.1">2002734826 (SRR5811236)</text>
<text id="leaf244" class="t b" x="676" y="5575.9">3000015501 (SRR5811222)</text>
<text id="leaf245" class="t b" x="676" y="5598.7">3000015500 (SRR5811223)</text>
<text id="leaf246" class="t b" x="679" y="5621.5">2008725069 (SRR5811110)</text>
<text id="leaf247" class="t b" x="679" y="5644.3">2008725017 (SRR5811119)</text>
<text id="leaf248" class="t b" x="681" y="5667.1">2008724996 (SRR5811170)</text>
<text id="leaf249" class="t b" x="686" y="5689.9">2008724158 (SRR5811013)</text>
<text id="leaf250" class="t b" x="682" y="5712.7">2008724192 (SRR5811052)</text>
<text id="leaf251" class="t b" x="682" y="5735.5">2008724191 (SRR5811051)</text>
<text id="leaf252" class="t b" x="684" y="5758.3">2013833043 (SRR5811036)</text>
<text id="leaf253" class="t b" x="684" y="5781.1">2008725080 (SRR5811111)</text>
<text id="leaf254" class="t b" x="684" y="5803.9">2008725081 (SRR5811138)</text>
<text id="leaf255" class="t b" x="680" y="5826.7">2008724185 (SRR5811009)</text>
<text id="leaf256" class="t b" x="686" y="5849.5">2008724186 (SRR5811008)</text>
<text id="leaf257" class="t b" x="678" y="5872.3">2008724157 (SRR5810985)</text>
<text id="leaf258" class="t b" x="677" y="5895.1">2008724182 (SRR5811074)</text>
<text id="leaf259" class="t b" x="677" y="5917.9">2008724181 (SRR5811012)</text>
<text id="leaf260" class="t b" x="677" y="5940.7">2008724183 (SRR5811072)</text>
<text id="leaf261" class="t b" x="677" y="5963.5">2008724156 (SRR5810984)</text>
</g>
</svg>
